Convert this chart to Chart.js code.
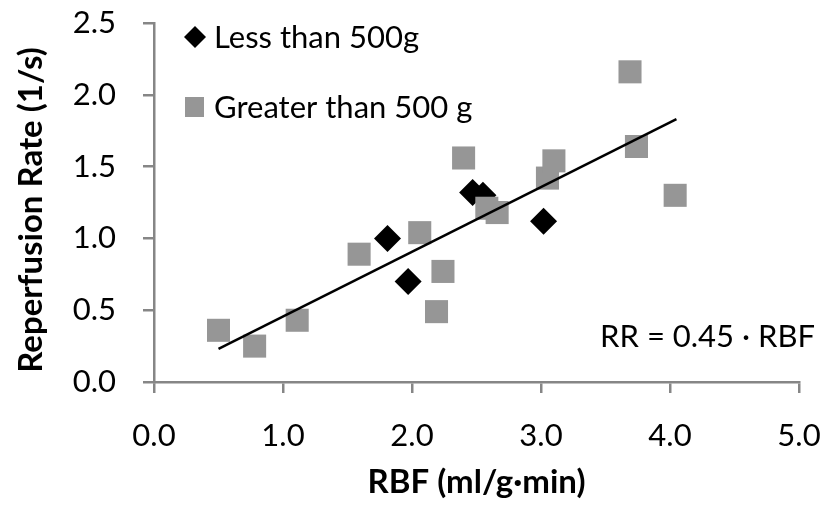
<!DOCTYPE html>
<html>
<head>
<meta charset="utf-8">
<script src="https://cdn.jsdelivr.net/npm/chart.js@4/dist/chart.umd.min.js"></script>
<style>
  body { margin: 0; background: #fff; }
  #wrap { width: 830px; height: 510px; }
</style>
</head>
<body>
<div id="wrap"><canvas id="grafico" width="830" height="510"></canvas></div>
<script>
// datos
const rbfMenos = [1.81, 1.97, 2.47, 2.55, 3.02];
const rrMenos = [1.00, 0.70, 1.32, 1.30, 1.12];

const rbfMas = [0.50, 0.78, 1.11, 1.59, 2.06, 2.24, 2.19, 2.40, 2.58, 2.66, 3.05, 3.10, 3.69, 3.74, 4.04];
const rrMas = [0.36, 0.25, 0.43, 0.89, 1.04, 0.77, 0.49, 1.56, 1.21, 1.18, 1.42, 1.54, 2.16, 1.64, 1.30];

const ajusteX = [0.50, 4.05];
const ajusteY = [0.23, 1.83];

const etiquetas = ["Less than 500g", "Greater than 500 g"];
const ecuacion = "RR = 0.45 \u00b7 RBF";
const tituloY = "Reperfusion Rate (1/s)";

const fuente = "Lato, 'Open Sans', sans-serif";
const grisEje = "#868686";
const grisMarca = "#969696";

const puntos = (xs, ys) => xs.map((x, i) => ({ x: x, y: ys[i] }));

// leyenda, ecuacion y titulo del eje Y dibujados a mano
const extras = {
    id: "extras",
    afterDraw(chart) {
        const ctx = chart.ctx;
        ctx.save();
        ctx.font = "31px " + fuente;
        ctx.fillStyle = "#000";
        ctx.textBaseline = "alphabetic";
        ctx.textAlign = "left";

        // rombo
        ctx.beginPath();
        ctx.moveTo(195, 26);
        ctx.lineTo(206, 37);
        ctx.lineTo(195, 48);
        ctx.lineTo(184, 37);
        ctx.closePath();
        ctx.fill();
        ctx.fillText(etiquetas[0], 214, 48);

        // cuadrado
        ctx.fillStyle = grisMarca;
        ctx.fillRect(185, 97, 19, 20);
        ctx.fillStyle = "#000";
        ctx.fillText(etiquetas[1], 214, 118);

        ctx.textAlign = "right";
        ctx.fillText(ecuacion, 815, 347);

        // titulo vertical
        ctx.translate(31, 210);
        ctx.rotate(-Math.PI / 2);
        ctx.font = "bold 33px " + fuente;
        ctx.textAlign = "center";
        ctx.textBaseline = "middle";
        ctx.fillText(tituloY, 0, 0);
        ctx.restore();
    }
};

new Chart(document.getElementById("grafico"), {
    type: "scatter",
    data: {
        datasets: [
            {
                label: "fit",
                type: "line",
                data: puntos(ajusteX, ajusteY),
                borderColor: "#000",
                borderWidth: 2.5,
                pointRadius: 0,
                fill: false,
                order: 0
            },
            {
                label: etiquetas[1],
                data: puntos(rbfMas, rrMas),
                pointStyle: "rect",
                pointRadius: 16.3,
                backgroundColor: grisMarca,
                borderColor: grisMarca,
                borderWidth: 0,
                order: 1
            },
            {
                label: etiquetas[0],
                data: puntos(rbfMenos, rrMenos),
                pointStyle: "rectRot",
                pointRadius: 13.5,
                backgroundColor: "#000",
                borderColor: "#000",
                borderWidth: 0,
                order: 2
            }
        ]
    },
    options: {
        responsive: false,
        animation: false,
        layout: { padding: { left: 0, right: 31, top: 23, bottom: 0 } },
        plugins: {
            legend: { display: false },
            tooltip: { enabled: false }
        },
        scales: {
            x: {
                type: "linear",
                min: 0,
                max: 5,
                afterFit: s => { s.height = 128; s.paddingLeft = 0; s.paddingRight = 0; },
                border: { color: grisEje, width: 2.5 },
                grid: { drawOnChartArea: false, color: grisEje, lineWidth: 2.5, tickLength: 11 },
                ticks: {
                    stepSize: 1,
                    padding: 24,
                    color: "#000",
                    font: { family: fuente, size: 31 },
                    maxRotation: 0,
                    callback: v => v.toFixed(1)
                },
                title: {
                    display: true,
                    text: "RBF (ml/g\u00b7min)",
                    color: "#000",
                    font: { family: fuente, size: 33, weight: "bold" },
                    padding: { top: 0, bottom: 8 }
                }
            },
            y: {
                type: "linear",
                min: 0,
                max: 2.5,
                afterFit: s => { s.width = 154; s.paddingTop = 0; s.paddingBottom = 0; },
                border: { color: grisEje, width: 2.5 },
                grid: { drawOnChartArea: false, color: grisEje, lineWidth: 2.5, tickLength: 11 },
                ticks: {
                    stepSize: 0.5,
                    padding: 27,
                    color: "#000",
                    font: { family: fuente, size: 31 },
                    callback: v => v.toFixed(1)
                }
            }
        }
    },
    plugins: [extras]
});
</script>
</body>
</html>
